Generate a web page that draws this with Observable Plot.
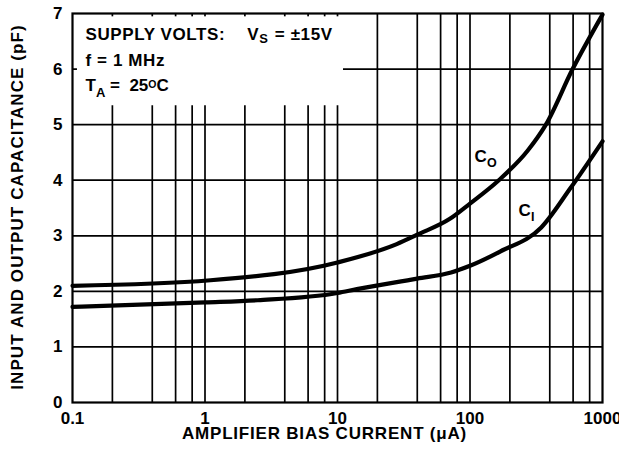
<!DOCTYPE html>
<html>
<head>
<meta charset="utf-8">
<script src="https://cdn.jsdelivr.net/npm/d3@7"></script>
<script src="https://cdn.jsdelivr.net/npm/@observablehq/plot@0.6"></script>
<style>
  html, body { margin: 0; padding: 0; background: #fff; }
  #chart { width: 619px; height: 451px; }
</style>
</head>
<body>
<div id="chart"></div>
<script>
// ---- data ----
const biasCo = [0.1, 1.1, 10, 28, 40, 70, 100, 165, 272, 374, 595, 1000];
const capCo  = [2.10, 2.20, 2.52, 2.85, 3.02, 3.30, 3.58, 4.00, 4.53, 5.00, 6.00, 6.98];
const biasCi = [0.1, 1, 2.5, 10, 14, 40, 72, 100, 170, 345, 570, 1000];
const capCi  = [1.72, 1.80, 1.84, 1.97, 2.04, 2.23, 2.34, 2.46, 2.72, 3.15, 3.85, 4.70];

const xTicks = [0.1, 1, 10, 100, 1000];
const xTickLabels = ["0.1", "1", "10", "100", "1000"];
const yTicks = [0, 1, 2, 3, 4, 5, 6, 7];
const xGrid = [0.2, 0.4, 0.6, 0.8, 1, 2, 4, 6, 8, 10, 20, 40, 60, 80, 100, 200, 400, 600, 800];
const yGrid = [1, 2, 3, 4, 5, 6];

const xTitle = "AMPLIFIER BIAS CURRENT (\u03BCA)";
const yTitle = "INPUT AND OUTPUT CAPACITANCE (pF)";

// annotation block (condition text), segments: [text, kind, extra gap]
const infoLines = [
  [["SUPPLY VOLTS:", "", 0], ["V", "", 22], ["S", "sub", 0], [" = \u00B115V", "", 1]],
  [["f = 1 MHz", "", 0]],
  [["T", "", 0], ["A", "sub2", 0], [" =  25", "", 0], ["O", "sup", 0], ["C", "", 0]]
];
const infoSpacing = ["0.6px", "0.6px", "0px"];
const infoX = [0.1254, 0.1254, 0.1254];
const infoY = [6.52, 6.05, 5.60];
const infoBox = {x1: 0.109, x2: 11.1, y1: 5.34, y2: 6.94};

const curveLabels = [
  {name: "C", sub: "O", x: 108, y: 4.33},
  {name: "C", sub: "I", x: 232, y: 3.36}
];

const coData = biasCo.map((x, i) => ({x, y: capCo[i]}));
const ciData = biasCi.map((x, i) => ({x, y: capCi[i]}));
const infoData = infoLines.map((segs, i) => ({x: infoX[i], y: infoY[i], segs}));

const chart = Plot.plot({
  width: 619,
  height: 451,
  marginLeft: 72,
  marginRight: 17,
  marginTop: 13,
  marginBottom: 49,
  style: {fontFamily: "Arial, 'Liberation Sans', Helvetica, sans-serif", fontWeight: "bold", fontSize: "17px", color: "black", background: "white", overflow: "visible"},
  x: {type: "log", domain: [0.1, 1000], label: null},
  y: {domain: [0, 7], label: null},
  marks: [
    Plot.ruleX(xGrid, {stroke: "black", strokeWidth: 1.7}),
    Plot.ruleY(yGrid, {stroke: "black", strokeWidth: 1.7}),
    Plot.rect([infoBox], {x1: "x1", x2: "x2", y1: "y1", y2: "y2", fill: "white"}),
    Plot.frame({stroke: "black", strokeWidth: 2.2}),
    Plot.line(coData, {x: "x", y: "y", stroke: "black", strokeWidth: 4.2, curve: "monotone-x"}),
    Plot.line(ciData, {x: "x", y: "y", stroke: "black", strokeWidth: 4.2, curve: "monotone-x"}),
    Plot.text(curveLabels, {x: "x", y: "y", text: "name", textAnchor: "start", lineAnchor: "bottom", fontSize: 17, fill: "black"}),
    Plot.text(curveLabels, {x: "x", y: "y", text: "sub", textAnchor: "start", lineAnchor: "bottom", fontSize: 12.5, dx: 12.5, dy: 5.5, fill: "black"}),
    Plot.text(infoData, {x: "x", y: "y", text: d => d.segs.map(s => s[0]).join(""), textAnchor: "start", lineAnchor: "bottom", fontSize: 17, fill: "black", className: "info"}),
    Plot.axisX(xTicks, {tickSize: 0, tickPadding: 9, tickFormat: d => xTickLabels[xTicks.indexOf(d)], fontSize: 17, fontWeight: "bold", label: null}),
    Plot.axisY(yTicks, {tickSize: 0, tickPadding: 10, tickFormat: d => String(d), fontSize: 17, fontWeight: "bold", label: null}),
    Plot.text([xTitle], {frameAnchor: "bottom", text: d => d, textAnchor: "middle", dx: -13, dy: 36.5, lineAnchor: "bottom", fontSize: 17, fontWeight: "bold", fill: "black", className: "xtitle"}),
    Plot.text([yTitle], {frameAnchor: "left", text: d => d, textAnchor: "middle", rotate: -90, dx: -55, dy: -1, lineAnchor: "middle", fontSize: 17, fontWeight: "bold", fill: "black", className: "ytitle"})
  ]
});

// letter spacing for the wide axis titles
d3.select(chart).selectAll("g.xtitle text").style("letter-spacing", "0.8px");
d3.select(chart).selectAll("g.ytitle text").style("letter-spacing", "1.1px");

// rich text (sub/superscripts) for the condition block
d3.select(chart).selectAll("g.info text").each(function(_, i) {
  const t = d3.select(this);
  t.text(null).style("white-space", "pre").style("letter-spacing", infoSpacing[i]);
  let shift = 0;
  infoLines[i].forEach(([str, kind, gap]) => {
    const sp = t.append("tspan").text(str);
    let target = 0, fs = null;
    if (kind === "sub") { target = 3; fs = 13; }
    else if (kind === "sub2") { target = 6; fs = 13; }
    else if (kind === "sup") { target = -3.7; fs = 10.5; }
    sp.attr("dy", target - shift);
    if (gap) sp.attr("dx", gap);
    if (fs) sp.attr("font-size", fs);
    shift = target;
  });
});

document.getElementById("chart").appendChild(chart);
</script>
</body>
</html>
